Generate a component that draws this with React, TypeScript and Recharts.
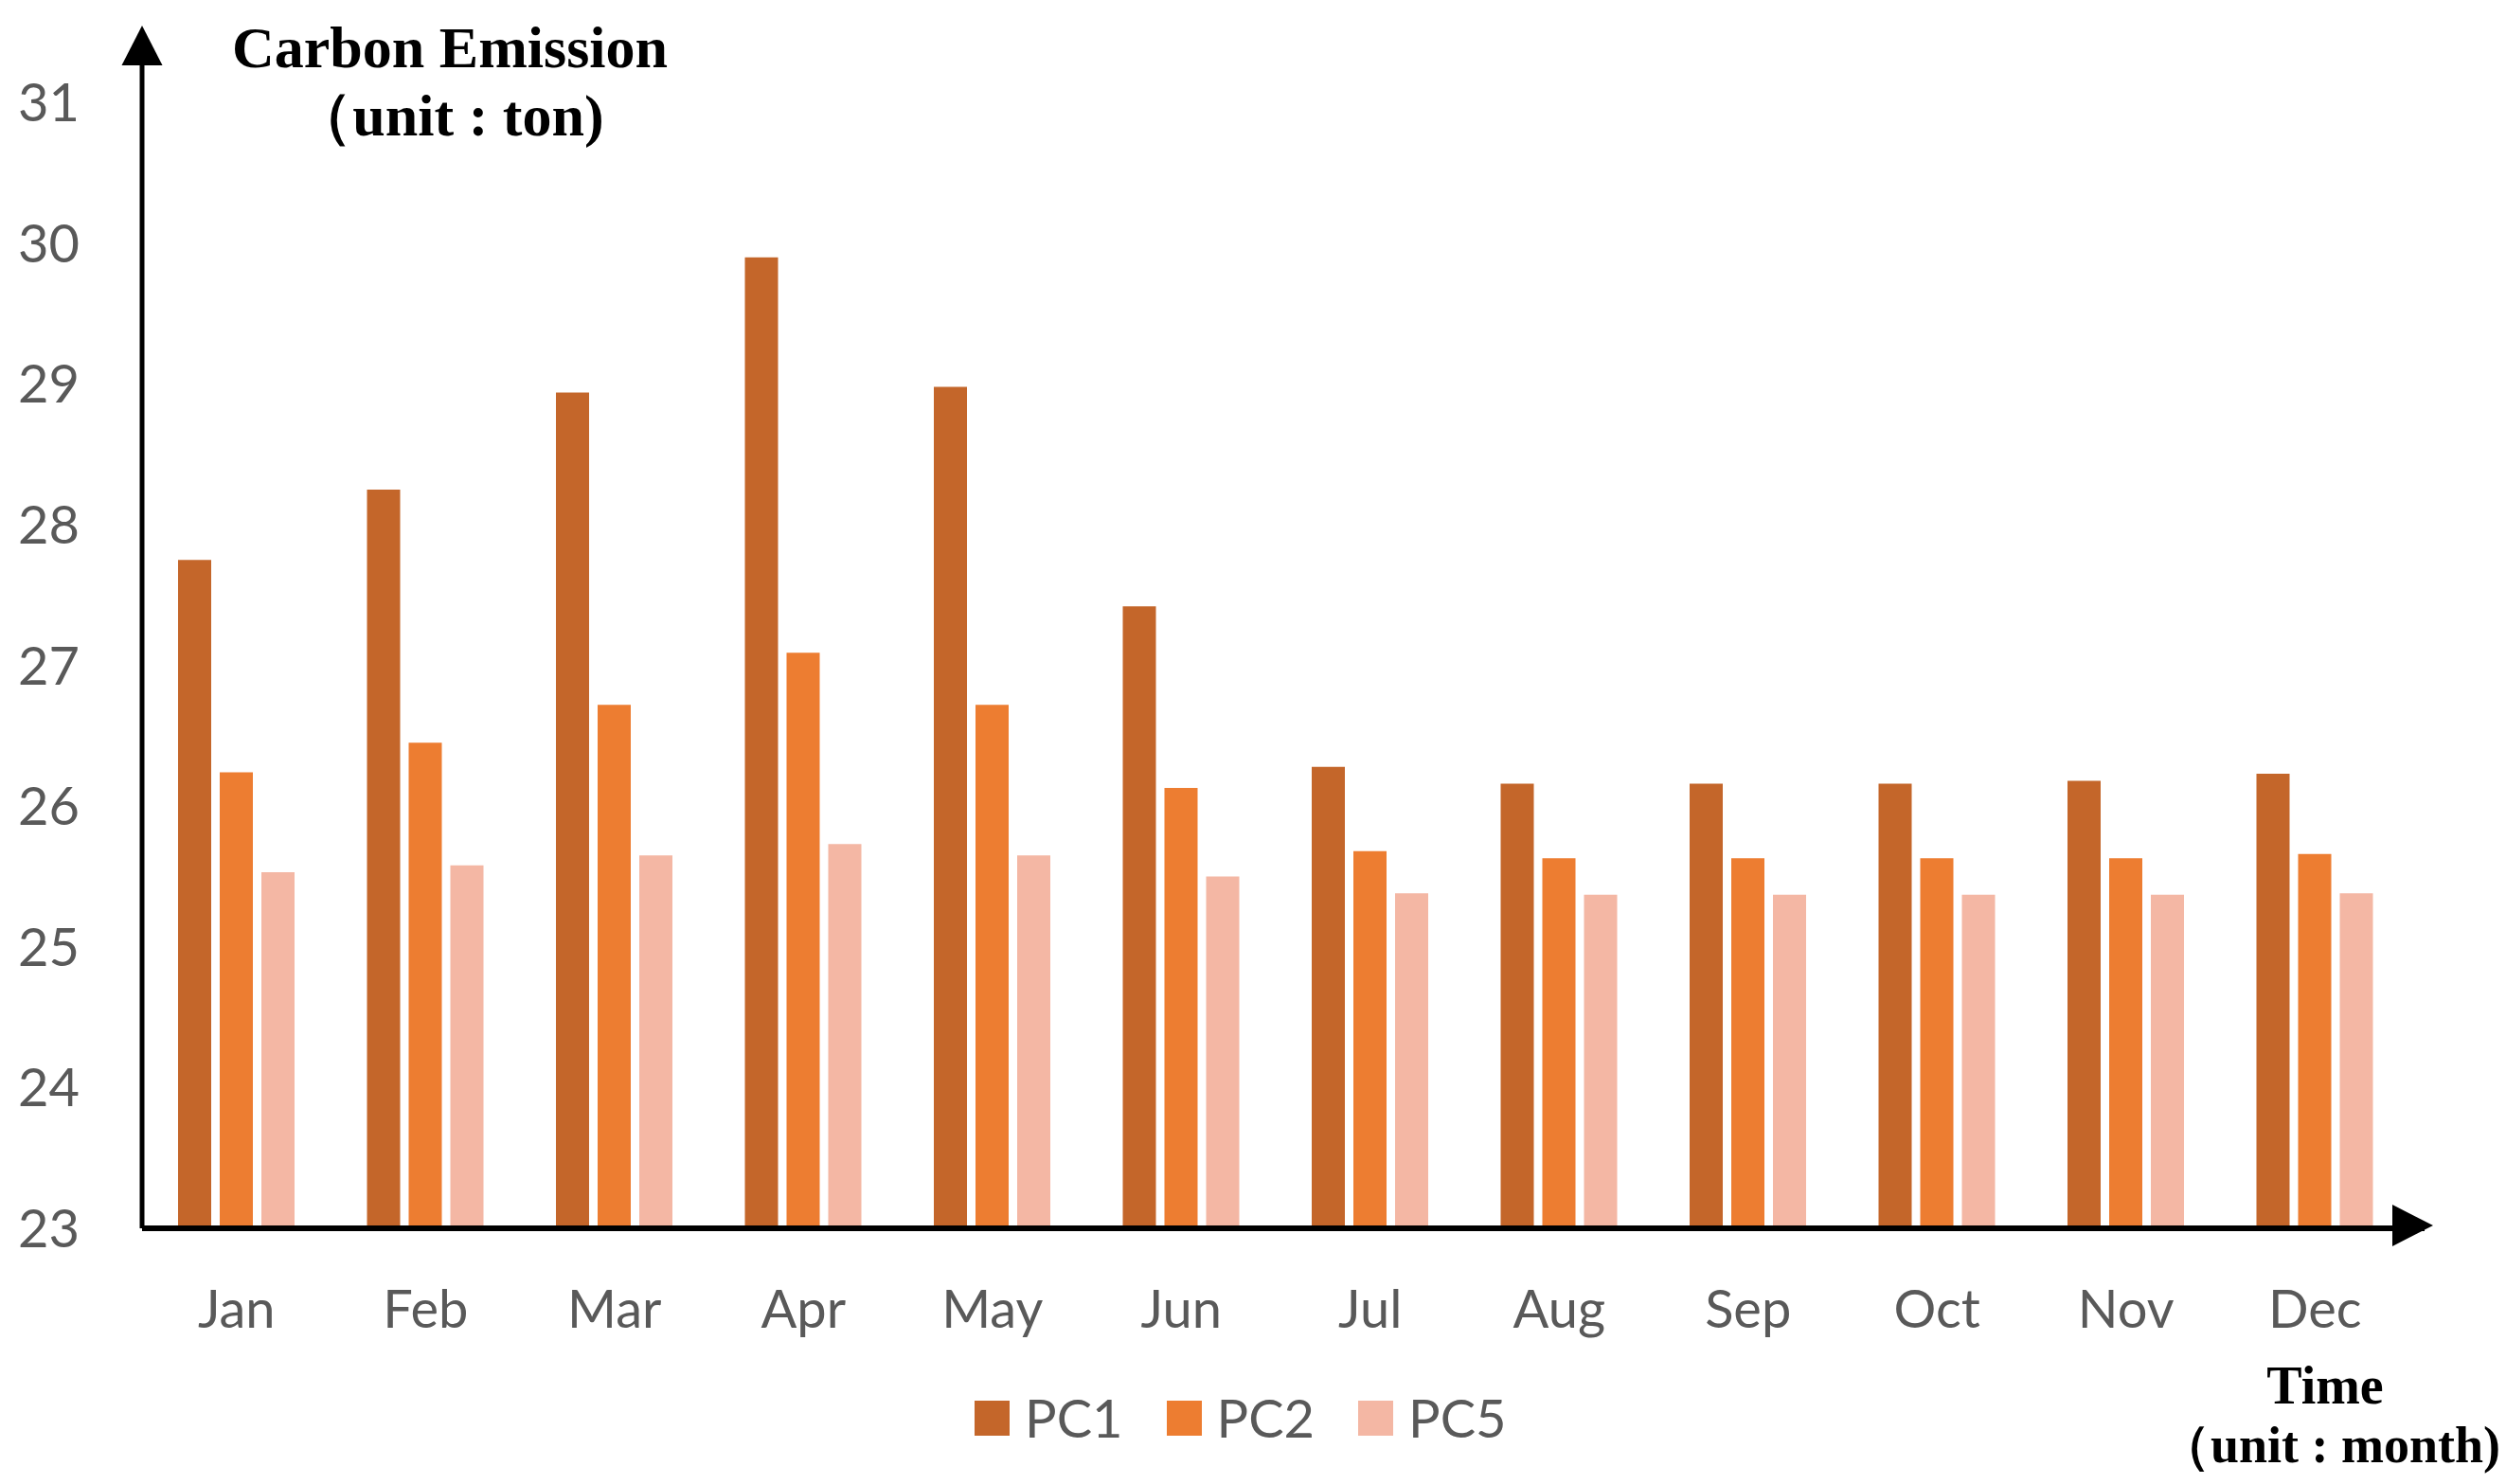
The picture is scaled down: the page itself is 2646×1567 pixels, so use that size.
import React from "react";
import { BarChart, Bar, XAxis, YAxis, Legend } from "recharts";

const months = ["Jan", "Feb", "Mar", "Apr", "May", "Jun", "Jul", "Aug", "Sep", "Oct", "Nov", "Dec"];
const pc1 = [27.75, 28.25, 28.94, 29.9, 28.98, 27.42, 26.28, 26.16, 26.16, 26.16, 26.18, 26.23];
const pc2 = [26.24, 26.45, 26.72, 27.09, 26.72, 26.13, 25.68, 25.63, 25.63, 25.63, 25.63, 25.66];
const pc5 = [25.53, 25.58, 25.65, 25.73, 25.65, 25.5, 25.38, 25.37, 25.37, 25.37, 25.37, 25.38];
const yTicks = [23, 24, 25, 26, 27, 28, 29, 30, 31];
const seriesNames = ["PC1", "PC2", "PC5"];
const colors = ["#C4662A", "#ED7D31", "#F4B7A4"];

const data = months.map((m, i) => ({ month: m, PC1: pc1[i], PC2: pc2[i], PC5: pc5[i] }));

const W = 2646;
const H = 1567;
const tickFont = { fontFamily: "Lato, 'Open Sans', sans-serif", fontSize: 56, fill: "#595959" };

const LegendContent = (props: any) => {
  const payload = props.payload || [];
  return (
    <div style={{ display: "flex", alignItems: "center", height: 72 }}>
      {payload.map((p: any) => (
        <div key={p.value} style={{ display: "flex", alignItems: "center", width: 202.5 }}>
          <span style={{ display: "inline-block", width: 37, height: 37, background: p.color }} />
          <span
            style={{
              marginLeft: 16,
              fontFamily: "Lato, 'Open Sans', sans-serif",
              fontSize: 56,
              color: "#595959",
              lineHeight: "72px",
            }}
          >
            {p.value}
          </span>
        </div>
      ))}
    </div>
  );
};

export default function App() {
  const serif = "'Liberation Serif', 'Times New Roman', serif";
  return (
    <div style={{ position: "absolute", left: 0, top: 0, width: W, height: H, background: "#fff" }}>
      <BarChart
        width={W}
        height={H}
        data={data}
        margin={{ top: 34, right: 86, left: 0, bottom: 0 }}
        barSize={35}
        barGap={9}
      >
        <XAxis
          dataKey="month"
          height={270}
          padding={{ left: 0, right: 16 }}
          axisLine={{ stroke: "#000", strokeWidth: 6 }}
          tickLine={false}
          tickSize={0}
          tickMargin={65}
          tick={tickFont}
          interval={0}
        />
        <YAxis
          type="number"
          domain={[23, 31.5]}
          ticks={yTicks}
          width={150}
          axisLine={{ stroke: "#000", strokeWidth: 5 }}
          tickLine={false}
          tickSize={0}
          tickMargin={66}
          tick={tickFont}
          allowDataOverflow
        />
        <Legend
          layout="horizontal"
          verticalAlign="middle"
          align="center"
          content={<LegendContent />}
          wrapperStyle={{ left: 1029, top: 1461, width: 620, height: 72 }}
        />
        {seriesNames.map((s, i) => (
          <Bar key={s} dataKey={s} name={s} fill={colors[i]} isAnimationActive={false} />
        ))}
      </BarChart>
      <svg
        width={W}
        height={H}
        style={{ position: "absolute", left: 0, top: 0, pointerEvents: "none" }}
      >
        <polygon points="150,27 128.5,69 171.5,69" fill="#000" />
        <polygon points="2569,1294 2526,1272 2526,1316" fill="#000" />
        <text x={475} y={71} textAnchor="middle" fontFamily={serif} fontWeight="bold" fontSize={62} fill="#000">
          Carbon Emission
        </text>
        <text x={474} y={143} textAnchor="middle" fontFamily={serif} fontWeight="bold" fontSize={62} fill="#000">
          （unit : ton)
        </text>
        <text x={2455} y={1482} textAnchor="middle" fontFamily={serif} fontWeight="bold" fontSize={56} fill="#000">
          Time
        </text>
        <text x={2460} y={1544} textAnchor="middle" fontFamily={serif} fontWeight="bold" fontSize={54} fill="#000">
          （unit : month)
        </text>
      </svg>
    </div>
  );
}
